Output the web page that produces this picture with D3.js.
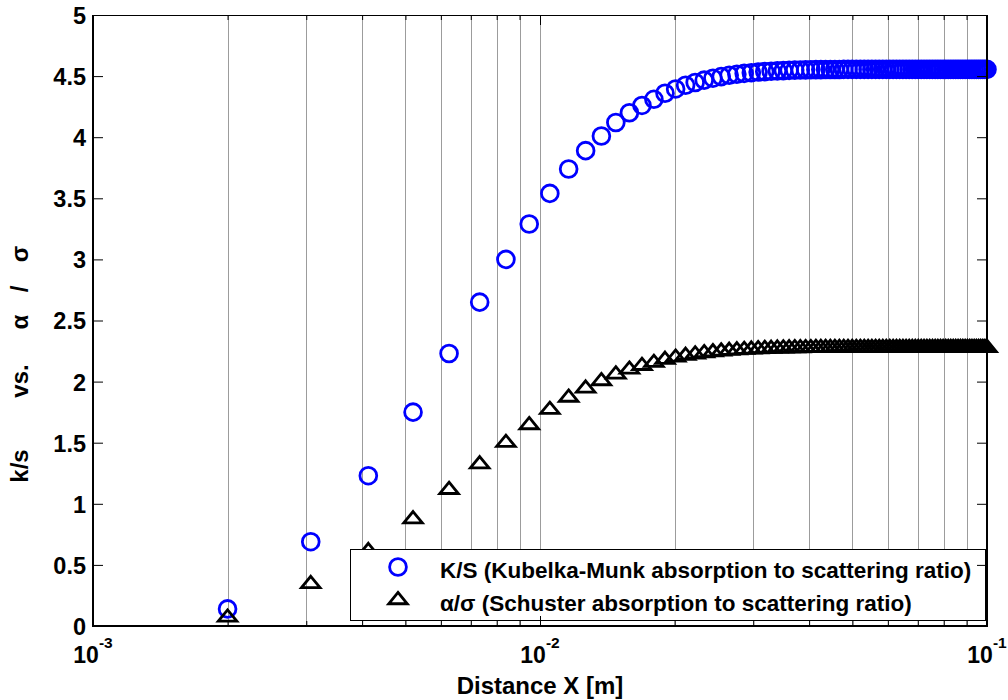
<!DOCTYPE html>
<html><head><meta charset="utf-8">
<script src="https://cdn.jsdelivr.net/npm/d3@7"></script>
<style>
body{margin:0;background:#fff;}
svg{display:block;font-family:Arial,"Liberation Sans",sans-serif;font-weight:bold;}
</style></head><body>
<svg id="chart" width="1008" height="700"></svg>
<script>
// Layer thickness X [m]
const distance = [
0.00200,0.00307,0.00413,0.00520,0.00626,0.00733,0.00839,0.00946,0.01052,0.01159,
0.01265,0.01372,0.01478,0.01585,0.01691,0.01798,0.01904,0.02011,0.02117,0.02224,
0.02330,0.02437,0.02543,0.02650,0.02757,0.02863,0.02970,0.03076,0.03183,0.03289,
0.03396,0.03502,0.03609,0.03715,0.03822,0.03928,0.04035,0.04141,0.04248,0.04354,
0.04461,0.04567,0.04674,0.04780,0.04887,0.04993,0.05100,0.05207,0.05313,0.05420,
0.05526,0.05633,0.05739,0.05846,0.05952,0.06059,0.06165,0.06272,0.06378,0.06485,
0.06591,0.06698,0.06804,0.06911,0.07017,0.07124,0.07230,0.07337,0.07443,0.07550,
0.07657,0.07763,0.07870,0.07976,0.08083,0.08189,0.08296,0.08402,0.08509,0.08615,
0.08722,0.08828,0.08935,0.09041,0.09148,0.09254,0.09361,0.09467,0.09574,0.09680,
0.09787,0.09893,0.10000];

// K/S, Kubelka-Munk absorption to scattering ratio
const kubelkaMunk = [
0.14,0.69,1.23,1.75,2.23,2.65,3.00,3.29,3.54,3.74,
3.89,4.01,4.12,4.20,4.26,4.31,4.36,4.395,4.425,4.448,
4.467,4.483,4.496,4.507,4.515,4.522,4.528,4.533,4.537,4.540,
4.543,4.545,4.547,4.549,4.550,4.551,4.552,4.553,4.553,4.554,
4.554,4.554,4.554,4.555,4.555,4.555,4.555,4.555,4.555,4.555,
4.555,4.555,4.555,4.555,4.555,4.555,4.555,4.555,4.555,4.555,
4.555,4.555,4.555,4.555,4.555,4.555,4.555,4.555,4.555,4.555,
4.555,4.555,4.555,4.555,4.555,4.555,4.555,4.555,4.555,4.555,
4.555,4.555,4.555,4.555,4.555,4.555,4.555,4.555,4.555,4.555,
4.555,4.555,4.555];

// alpha/sigma, Schuster absorption to scattering ratio
const schuster = [
0.07,0.345,0.615,0.875,1.115,1.325,1.50,1.645,1.77,1.87,
1.945,2.005,2.06,2.10,2.13,2.155,2.18,2.198,2.213,2.224,
2.234,2.242,2.248,2.254,2.258,2.261,2.264,2.267,2.269,2.270,
2.272,2.273,2.274,2.275,2.275,2.276,2.276,2.277,2.277,2.277,
2.277,2.277,2.277,2.277,2.277,2.277,2.277,2.277,2.277,2.277,
2.277,2.277,2.277,2.277,2.277,2.277,2.277,2.277,2.277,2.277,
2.277,2.277,2.277,2.277,2.277,2.277,2.277,2.277,2.277,2.277,
2.277,2.277,2.277,2.277,2.277,2.277,2.277,2.277,2.277,2.277,
2.277,2.277,2.277,2.277,2.277,2.277,2.277,2.277,2.277,2.277,
2.277,2.277,2.277];

const yTickValues = [0,0.5,1,1.5,2,2.5,3,3.5,4,4.5,5];
const yTickLabels = ["0","0.5","1","1.5","2","2.5","3","3.5","4","4.5","5"];
const xDecades = [1e-3,1e-2,1e-1];
const xDecadeExponents = ["-3","-2","-1"];
const seriesNames = [
  "K/S (Kubelka-Munk absorption to scattering ratio)",
  "\u03b1/\u03c3 (Schuster absorption to scattering ratio)"
];
const xAxisTitle = "Distance X [m]";
// y title pieces, spaced the way the TeX-style label is set
const yAxisTitleParts = ["k/s", "vs.", "\u03b1", "/", "\u03c3"];

const svg = d3.select("#chart");
const plotLeft = 93, plotRight = 987, plotTop = 15, plotBottom = 626;

const x = d3.scaleLog().domain([1e-3, 1e-1]).range([plotLeft, plotRight]);
const y = d3.scaleLinear().domain([0, 5]).range([plotBottom, plotTop]);

// minor positions 2..9 within each decade
const minorTicks = [];
xDecades.slice(0, -1).forEach(d => { for (let m = 2; m <= 9; m++) minorTicks.push(m * d); });
const gridTicks = minorTicks.concat([1e-2]);

// vertical grid
svg.append("g").selectAll("line").data(gridTicks).join("line")
  .attr("x1", d => Math.round(x(d)) + 0.5).attr("x2", d => Math.round(x(d)) + 0.5)
  .attr("y1", y(0)).attr("y2", y(5))
  .attr("stroke", "#9c9c9c").attr("stroke-width", 1);

// wide upward triangle marker, centred on its centroid
const wideTriangle = {
  draw(ctx, size) {
    const h = Math.sqrt(size) * 0.78, w = h * 0.82;
    ctx.moveTo(0, -2 * h / 3);
    ctx.lineTo(w, h / 3);
    ctx.lineTo(-w, h / 3);
    ctx.closePath();
  }
};
const triPath = d3.symbol().type(wideTriangle).size(210)();

const plot = svg.append("g");
plot.selectAll("circle.km").data(distance).join("circle")
  .attr("class", "km")
  .attr("cx", d => x(d)).attr("cy", (d, i) => y(kubelkaMunk[i]))
  .attr("r", 8.4).attr("fill", "none").attr("stroke", "#0000ff").attr("stroke-width", 2.8);

plot.selectAll("path.sc").data(distance).join("path")
  .attr("class", "sc")
  .attr("transform", (d, i) => `translate(${x(d)},${y(schuster[i])})`)
  .attr("d", triPath).attr("fill", "none").attr("stroke", "#000").attr("stroke-width", 2.8)
  .attr("stroke-linejoin", "miter");

// legend
const lg = svg.append("g");
lg.append("rect").attr("x", 350.5).attr("y", 549.5).attr("width", 635).attr("height", 71)
  .attr("fill", "#fff").attr("stroke", "#000").attr("stroke-width", 1);
lg.append("circle").attr("cx", 398).attr("cy", 567).attr("r", 8.4)
  .attr("fill", "none").attr("stroke", "#0000ff").attr("stroke-width", 2.8);
lg.append("path").attr("transform", "translate(398,600)").attr("d", triPath)
  .attr("fill", "none").attr("stroke", "#000").attr("stroke-width", 2.8);
lg.selectAll("text").data(seriesNames).join("text")
  .attr("x", 440).attr("y", (d, i) => 578 + i * 33)
  .attr("font-size", 22.5).attr("fill", "#000").text(d => d);

// axes
const axB = d3.axisBottom(x).tickValues(xDecades.concat(minorTicks)).tickSizeOuter(0)
  .tickSizeInner(0).tickFormat("");
const gB = svg.append("g").attr("transform", `translate(0,${plotBottom})`).call(axB);
gB.select(".domain").remove();
gB.selectAll(".tick line").attr("y2", d => xDecades.includes(d) ? -10 : -5).attr("stroke", "#000");

const axT = d3.axisTop(x).tickValues(xDecades.concat(minorTicks)).tickSizeOuter(0)
  .tickSizeInner(0).tickFormat("");
const gT = svg.append("g").attr("transform", `translate(0,${plotTop})`).call(axT);
gT.select(".domain").remove();
gT.selectAll(".tick line").attr("y2", d => xDecades.includes(d) ? 10 : 5).attr("stroke", "#000");

const axL = d3.axisLeft(y).tickValues(yTickValues).tickSizeInner(-10).tickSizeOuter(0)
  .tickPadding(7).tickFormat((d, i) => yTickLabels[i]);
const gL = svg.append("g").attr("transform", `translate(${plotLeft},0)`).call(axL);
gL.attr("font-family", null).attr("font-size", null);
gL.select(".domain").remove();
gL.selectAll(".tick line").attr("stroke", "#000");
gL.selectAll(".tick text").attr("font-size", 23.5).attr("fill", "#000").attr("dy", "0.36em");

const axR = d3.axisRight(y).tickValues(yTickValues).tickSizeInner(-10).tickSizeOuter(0).tickFormat("");
const gR = svg.append("g").attr("transform", `translate(${plotRight},0)`).call(axR);
gR.select(".domain").remove();
gR.selectAll(".tick line").attr("stroke", "#000");

// decade labels 10^n
xDecades.forEach((d, i) => {
  const t = svg.append("text").attr("x", x(d)).attr("y", 663).attr("text-anchor", "middle")
    .attr("font-size", 23).attr("fill", "#000");
  t.append("tspan").text("10");
  t.append("tspan").attr("dy", -15).attr("font-size", 15.5).text(xDecadeExponents[i]);
});

// axes box
svg.append("line").attr("x1", plotLeft).attr("x2", plotRight).attr("y1", plotTop + 0.5).attr("y2", plotTop + 0.5)
  .attr("stroke", "#000").attr("stroke-width", 1);
svg.append("line").attr("x1", plotLeft).attr("x2", plotRight).attr("y1", plotBottom).attr("y2", plotBottom)
  .attr("stroke", "#000").attr("stroke-width", 2);
svg.append("line").attr("x1", plotLeft).attr("x2", plotLeft).attr("y1", plotTop).attr("y2", plotBottom + 1)
  .attr("stroke", "#000").attr("stroke-width", 2);
svg.append("line").attr("x1", plotRight).attr("x2", plotRight).attr("y1", plotTop).attr("y2", plotBottom + 1)
  .attr("stroke", "#000").attr("stroke-width", 2);

// axis titles
svg.append("text").attr("x", (plotLeft + plotRight) / 2).attr("y", 694).attr("text-anchor", "middle")
  .attr("font-size", 24).attr("fill", "#000").text(xAxisTitle);

// rotated y title: each piece centred at its own position along the axis
const yTitleCentres = [466, 381, 322, 289, 254];
svg.append("g").selectAll("text").data(yAxisTitleParts).join("text")
  .attr("transform", (d, i) => `translate(28,${yTitleCentres[i]}) rotate(-90)`)
  .attr("text-anchor", "middle").attr("font-size", 24).attr("fill", "#000").text(d => d);
</script>
</body></html>
